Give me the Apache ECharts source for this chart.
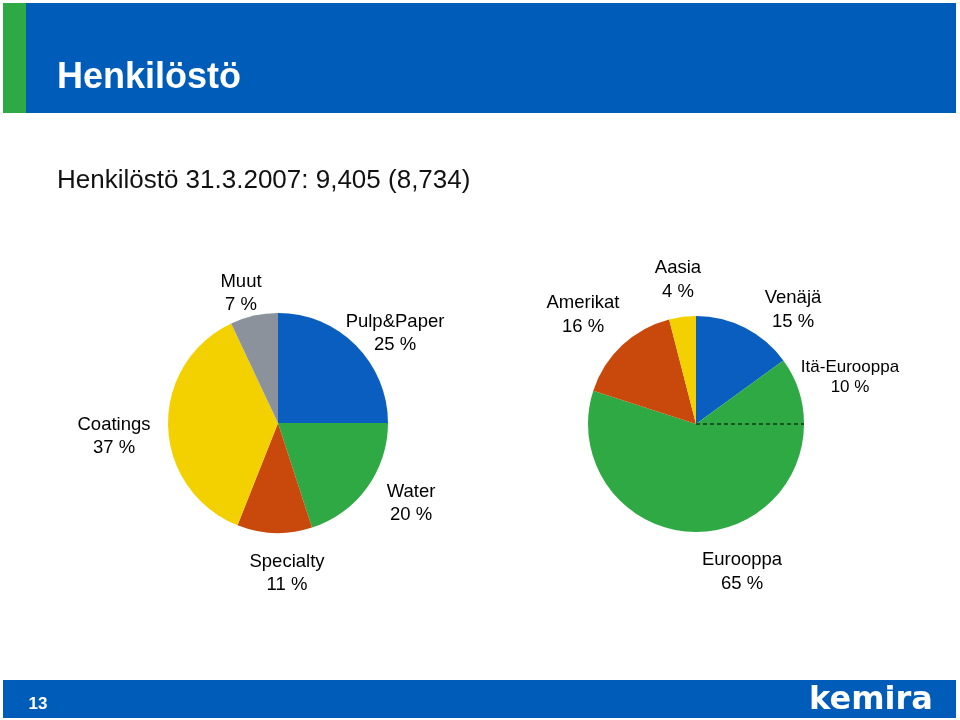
<!DOCTYPE html>
<html>
<head>
<meta charset="utf-8">
<script src="https://cdn.jsdelivr.net/npm/echarts@6/dist/echarts.min.js"></script>
<style>
  html, body { margin: 0; padding: 0; background: #ffffff; }
  #chart { width: 960px; height: 720px; }
</style>
</head>
<body>
<div id="chart"></div>
<script>
// ---- Data ----
var pageTitle = 'Henkilöstö';
var subTitle = 'Henkilöstö 31.3.2007: 9,405 (8,734)';
var pageNumber = '13';

// Left pie: by business area (clockwise from 12 o'clock)
var segmentNames = ['Pulp&Paper', 'Water', 'Specialty', 'Coatings', 'Muut'];
var segmentPct = [25, 20, 11, 37, 7];

// Right pie: by region (clockwise from 12 o'clock)
// Eurooppa 65 % includes Itä-Eurooppa 10 %
var regionNames = ['Venäjä', 'Itä-Eurooppa', 'Eurooppa', 'Amerikat', 'Aasia'];
var regionPct = [15, 10, 65, 16, 4];

// ---- Styles / layout ----
var FONT = "'Liberation Sans', Arial, Helvetica, sans-serif";
var HEADER_BLUE = '#005cb9';
var HEADER_GREEN = '#2fa943';
var segmentColors = ['#0a5ec0', '#2ea943', '#c9490c', '#f3d100', '#8b929b'];
var regionColors = ['#0a5ec0', '#2ea943', '#2ea943', '#c9490c', '#f3d100'];

var leftCenter = [278, 423], leftRadius = 110;
var rightCenter = [696, 424], rightRadius = 108;

// label anchor positions (text centers)
var leftLabelPos = [[395, 333], [411, 503], [287, 573], [114, 436], [241, 293]];
var rightLabelPos = [[793, 310], [850, 377], [742, 572], [583, 315], [678, 280]];

// slice values: Eurooppa slice excludes Itä-Eurooppa part
var itaIndex = regionNames.indexOf('Itä-Eurooppa');
var euIndex = regionNames.indexOf('Eurooppa');
var regionSlices = regionPct.map(function (v, i) {
  return i === euIndex ? v - regionPct[itaIndex] : v;
});
// dashed separator angle: cumulative value up to end of Itä-Eurooppa
var sepValue = 0;
for (var k = 0; k <= itaIndex; k++) sepValue += regionSlices[k];
var sliceTotal = regionSlices.reduce(function (a, b) { return a + b; }, 0);

var chart = echarts.init(document.getElementById('chart'), null, { renderer: 'canvas' });

function labelStyle(size, lh) {
  return {
    show: true,
    position: 'outside',
    color: '#000000',
    fontFamily: FONT,
    fontSize: size,
    lineHeight: lh
  };
}

var option = {
  backgroundColor: '#ffffff',
  animation: false,
  graphic: [
    { type: 'rect', shape: { x: 3, y: 3, width: 23, height: 110 }, style: { fill: HEADER_GREEN }, silent: true },
    { type: 'rect', shape: { x: 26, y: 3, width: 930, height: 110 }, style: { fill: HEADER_BLUE }, silent: true },
    { type: 'text', x: 57, y: 78, style: { text: pageTitle, fill: '#ffffff', font: 'bold 36px ' + FONT, textVerticalAlign: 'middle', textAlign: 'left' }, silent: true },
    { type: 'text', x: 57, y: 181, style: { text: subTitle, fill: '#111111', font: '26px ' + FONT, textVerticalAlign: 'middle', textAlign: 'left' }, silent: true },
    { type: 'rect', shape: { x: 3, y: 680, width: 953, height: 38 }, style: { fill: HEADER_BLUE }, silent: true },
    { type: 'text', x: 38, y: 704, style: { text: pageNumber, fill: '#ffffff', font: 'bold 17px ' + FONT, textVerticalAlign: 'middle', textAlign: 'center' }, silent: true },
    { type: 'text', x: 871, y: 701, style: { text: 'kemira', fill: '#ffffff', font: 'bold 32px "DejaVu Sans", sans-serif', textVerticalAlign: 'middle', textAlign: 'center' }, silent: true }
  ],
  polar: { center: rightCenter, radius: rightRadius },
  angleAxis: {
    type: 'value', min: 0, max: sliceTotal, startAngle: 90, clockwise: true,
    show: false, axisLine: { show: false }, axisTick: { show: false }, axisLabel: { show: false }, splitLine: { show: false }
  },
  radiusAxis: {
    type: 'value', min: 0, max: 1,
    show: false, axisLine: { show: false }, axisTick: { show: false }, axisLabel: { show: false }, splitLine: { show: false }
  },
  series: [
    {
      name: 'Liiketoiminta',
      type: 'pie',
      center: leftCenter,
      radius: leftRadius,
      startAngle: 90,
      clockwise: true,
      avoidLabelOverlap: false,
      silent: true,
      itemStyle: { borderWidth: 0 },
      label: Object.assign(labelStyle(18.5, 23), { formatter: '{b}\n{c} %' }),
      labelLine: { show: false },
      labelLayout: function (p) {
        var pos = leftLabelPos[p.dataIndex];
        return { x: pos[0], y: pos[1], align: 'center', verticalAlign: 'middle' };
      },
      data: segmentNames.map(function (n, i) {
        return { name: n, value: segmentPct[i], itemStyle: { color: segmentColors[i] } };
      })
    },
    {
      name: 'Alueet',
      type: 'pie',
      center: rightCenter,
      radius: rightRadius,
      startAngle: 90,
      clockwise: true,
      avoidLabelOverlap: false,
      silent: true,
      itemStyle: { borderWidth: 0 },
      label: Object.assign(labelStyle(18.5, 24), {
        formatter: function (p) { return p.name + '\n' + regionPct[p.dataIndex] + ' %'; }
      }),
      labelLine: { show: false },
      labelLayout: function (p) {
        var pos = rightLabelPos[p.dataIndex];
        return { x: pos[0], y: pos[1], align: 'center', verticalAlign: 'middle' };
      },
      data: regionNames.map(function (n, i) {
        var d = { name: n, value: regionSlices[i], itemStyle: { color: regionColors[i] } };
        if (i === itaIndex) d.label = { fontSize: 17, lineHeight: 20 };
        return d;
      })
    },
    {
      name: 'Itä-Eurooppa raja',
      type: 'line',
      coordinateSystem: 'polar',
      showSymbol: false,
      symbol: 'none',
      silent: true,
      z: 10,
      lineStyle: { color: '#000000', width: 1, type: [4, 3] },
      data: [[0, sepValue], [1, sepValue]]
    }
  ]
};

chart.setOption(option);
</script>
</body>
</html>
